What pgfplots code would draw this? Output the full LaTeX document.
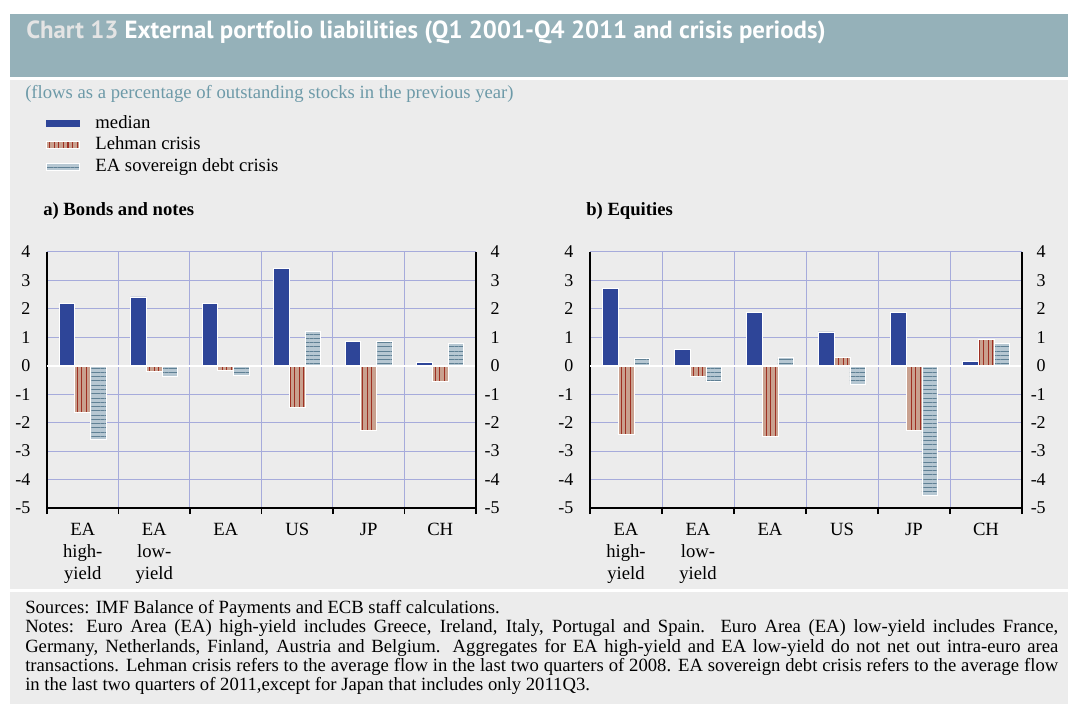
\documentclass[border=0pt]{standalone}
\usepackage{pgfplots}
\pgfplotsset{compat=1.18}
\usetikzlibrary{patterns.meta}
\usepackage{fontspec}
\setmainfont{Liberation Serif}
\newfontfamily\titlefont{PT Sans}
\definecolor{band}{HTML}{95B1B9}
\definecolor{panel}{HTML}{ECECEC}
\definecolor{subt}{HTML}{6D9AA8}
\definecolor{chartc}{HTML}{E4E4E4}
\definecolor{medc}{HTML}{2E4598}
\definecolor{lehfill}{HTML}{C9A18F}
\definecolor{lehline}{HTML}{9E2F22}
\definecolor{sovfill}{HTML}{B6C7D2}
\definecolor{sovline}{HTML}{5F8094}
\definecolor{gridc}{HTML}{A6ABDB}

\pgfplotsset{
  chartbase/.style={
    scale only axis, height=192pt,
    xmin=-0.5, xmax=5.5, ymin=-5, ymax=4,
    ytick={-5,...,4}, yticklabels={-5,-4,-3,-2,-1,0,1,2,3,4},
  },
  mainax/.style={chartbase,
    axis x line*=bottom, axis y line*=left,
    xtick={0,...,5},
    xticklabels={{EA\\high-\\yield},{EA\\low-\\yield},EA,US,JP,CH},
    minor xtick={-0.5,0.5,...,5.5},
    xminorgrids, ymajorgrids,
    grid style={gridc, line width=0.75pt},
    minor grid style={gridc, line width=0.75pt},
    major x tick style={draw=none},
    major y tick style={draw=none},
    minor x tick style={black, line width=0.8pt},
    minor tick length=4.5pt,
    tick align=outside,
    axis line style={black, line width=0.9pt},
    xticklabel style={font=\fontsize{14}{16.5}\selectfont, align=center, anchor=north, inner sep=0pt, yshift=-7pt},
    yticklabel style={font=\fontsize{13.5}{14}\selectfont, inner sep=0pt, xshift=-8pt},
    ybar, bar width=0.22,
    legend image code/.code={\draw[##1, draw=none] (0pt,-2.6pt) rectangle (25pt,2.6pt);},
  },
  rightax/.style={chartbase,
    axis y line*=right, axis x line=none,
    major y tick style={draw=none},
    axis line style={black, line width=0.9pt},
    yticklabel style={font=\fontsize{13.5}{14}\selectfont, anchor=east, inner sep=0pt, xshift=18pt},
  },
  medbar/.style={fill=medc, draw=white, line width=0.6pt, bar shift=-0.22},
  lehbar/.style={fill=lehfill, draw=white, line width=0.6pt, bar shift=0,
    postaction={pattern={Lines[angle=90,distance=3.4pt,line width=0.8pt]}, pattern color=lehline}},
  sovbar/.style={fill=sovfill, draw=white, line width=0.6pt, bar shift=0.22,
    postaction={pattern={Lines[angle=0,distance=3.2pt,line width=0.7pt]}, pattern color=sovline}},
}

\begin{document}
\begin{tikzpicture}[x=0.75pt,y=0.75pt]
\fill[white] (0,0) rectangle (1078,718);
\fill[band] (10,704) rectangle (1068,641);
\fill[panel] (10,638) rectangle (1068,129);
\fill[panel] (10,126) rectangle (1068,14);

\node[anchor=base west, inner sep=0, font=\titlefont\bfseries\fontsize{18.6}{21}\selectfont] at (26,679)
  {\textcolor{chartc}{Chart 13}\ \textcolor{white}{External portfolio liabilities (Q1 2001-Q4 2011 and crisis periods)}};
\node[anchor=west, inner sep=0, text=subt, font=\fontsize{14}{15}\selectfont] at (25,624)
  {(flows as a percentage of outstanding stocks in the previous year)};
\node[anchor=west, inner sep=0, font=\bfseries\fontsize{14}{16}\selectfont] at (43,507) {a) Bonds and notes};
\node[anchor=west, inner sep=0, font=\bfseries\fontsize{14}{16}\selectfont] at (586,507) {b) Equities};

% Panel a
\begin{axis}[mainax, width=321.75pt, at={(35.25pt,157.5pt)}, anchor=south west,
  legend style={at={(-0.003,1.545)}, anchor=north west, draw=none, fill=none, inner sep=0pt,
    font=\fontsize{14}{16}\selectfont,
    nodes={inner sep=0pt, text height=11.5pt, text depth=4.8pt},
    /tikz/every odd column/.append style={column sep=11.5pt}},
  legend cell align=left]
\addplot[medbar] coordinates {(0,2.2) (1,2.42) (2,2.2) (3,3.41) (4,0.84) (5,0.13)};
\addplot[lehbar] coordinates {(0,-1.63) (1,-0.2) (2,-0.16) (3,-1.45) (4,-2.27) (5,-0.55)};
\addplot[sovbar] coordinates {(0,-2.59) (1,-0.36) (2,-0.35) (3,1.22) (4,0.84) (5,0.78)};
\legend{median, Lehman crisis, EA sovereign debt crisis}
\draw[white, line width=1.5pt] (axis cs:-0.5,0) -- (axis cs:5.5,0);
\end{axis}
\begin{axis}[rightax, width=321.75pt, at={(35.25pt,157.5pt)}, anchor=south west]
\end{axis}

% Panel b
\begin{axis}[mainax, width=324pt, at={(442.5pt,157.5pt)}, anchor=south west]
\addplot[medbar] coordinates {(0,2.71) (1,0.58) (2,1.86) (3,1.19) (4,1.86) (5,0.14)};
\addplot[lehbar] coordinates {(0,-2.41) (1,-0.39) (2,-2.48) (3,0.28) (4,-2.27) (5,0.93)};
\addplot[sovbar] coordinates {(0,0.25) (1,-0.55) (2,0.28) (3,-0.65) (4,-4.57) (5,0.78)};
\draw[white, line width=1.5pt] (axis cs:-0.5,0) -- (axis cs:5.5,0);
\end{axis}
\begin{axis}[rightax, width=324pt, at={(442.5pt,157.5pt)}, anchor=south west]
\end{axis}

\node[anchor=north west, inner sep=0, text width=774.75pt, align=justify, font=\fontsize{14}{14.5}\selectfont] at (25,118)
{Sources: IMF Balance of Payments and ECB staff calculations.\\
Notes: Euro Area (EA) high-yield includes Greece, Ireland, Italy, Portugal and Spain. Euro Area (EA) low-yield includes France,\linebreak
Germany, Netherlands, Finland, Austria and Belgium. Aggregates for EA high-yield and EA low-yield do not net out intra-euro area\linebreak
transactions. Lehman crisis refers to the average flow in the last two quarters of 2008. EA sovereign debt crisis refers to the average flow\linebreak
in the last two quarters of 2011,except for Japan that includes only 2011Q3.};
\end{tikzpicture}
\end{document}
